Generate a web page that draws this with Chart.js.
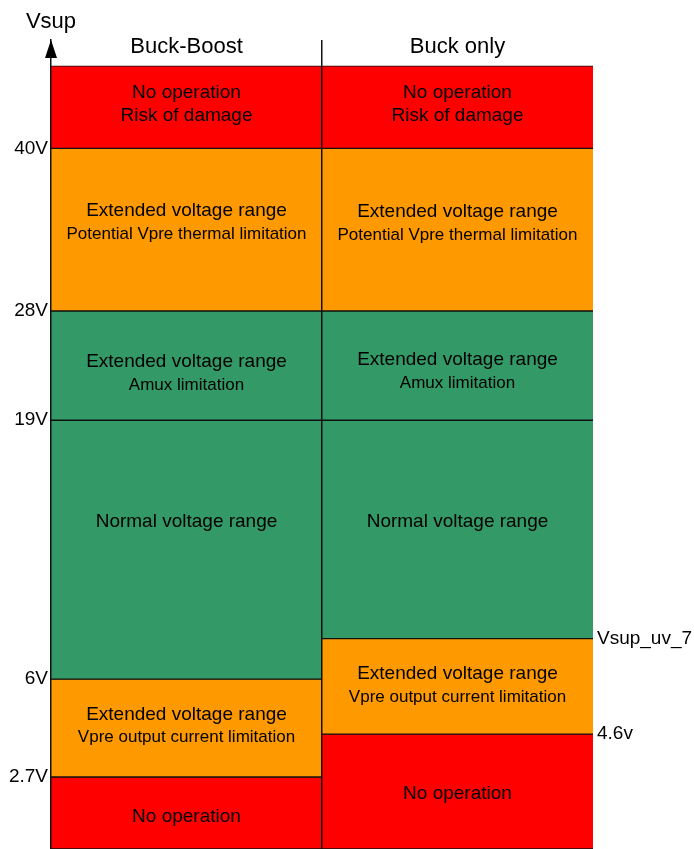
<!DOCTYPE html>
<html>
<head>
<meta charset="utf-8">
<script src="https://cdn.jsdelivr.net/npm/chart.js@4.4.0/dist/chart.umd.min.js"></script>
<style>
  html, body { margin: 0; padding: 0; background: #fff; }
  #wrap { width: 694px; height: 849px; position: relative; }
</style>
</head>
<body>
<div id="wrap"><canvas id="chart-vsup"></canvas></div>
<script>
// Vsup operating ranges — schematic axis, 0 = bottom, 100 = arrow tip

var columns = ['Buck-Boost', 'Buck only'];

// band edges, top to bottom, on the schematic Vsup axis
var buckBoostEdges = [96.8, 86.6, 66.5, 53, 21, 8.9, 0];
var buckOnlyEdges  = [96.8, 86.6, 66.5, 53, 26, 14.2, 0];

var leftTickValues  = [86.6, 66.5, 53, 21, 8.9];
var leftTickLabels  = ['40V', '28V', '19V', '6V', '2.7V'];
var rightTickValues = [26, 14.2];
var rightTickLabels = ['Vsup_uv_7', '4.6v'];

var bandText = [
  ['No operation', 'Risk of damage'],
  ['Extended voltage range', 'Potential Vpre thermal limitation'],
  ['Extended voltage range', 'Amux limitation'],
  ['Normal voltage range'],
  ['Extended voltage range', 'Vpre output current limitation'],
  ['No operation']
];

var red    = '#FF0000';
var orange = '#FF9900';
var green  = '#339966';
var bandColors = [red, orange, green, green, orange, red];

// décalage vertical du texte (px) par bande, [Buck-Boost, Buck only]
var textShift = [[-3, -3], [-7, -6], [8, 6], [-28, -8], [-2, -1], [4, 2]];

var FONT = "'Liberation Sans', Arial, sans-serif";
var ink  = '#111';

var datasets = bandText.map(function(t, i) {
  return {
    label: t.join(' / '),
    data: [
      [buckBoostEdges[i + 1], buckBoostEdges[i]],
      [buckOnlyEdges[i + 1], buckOnlyEdges[i]]
    ],
    backgroundColor: bandColors[i],
    borderColor: ink,
    borderWidth: { top: 1, bottom: 1, left: 0, right: 0 },
    borderSkipped: false,
    grouped: false,
    barPercentage: 1,
    categoryPercentage: 1
  };
});

// texte dans les bandes + flèche + titres
var decor = {
  id: 'decor',
  afterDatasetsDraw: function(chart) {
    var ctx = chart.ctx;
    ctx.save();
    ctx.fillStyle = '#000';
    ctx.textAlign = 'center';
    ctx.textBaseline = 'middle';
    chart.data.datasets.forEach(function(ds, di) {
      var lines = bandText[di];
      chart.getDatasetMeta(di).data.forEach(function(bar, ci) {
        var cy = (bar.y + bar.base) / 2 + textShift[di][ci];
        var y0 = cy - (lines.length - 1) * 11.5;
        lines.forEach(function(txt, li) {
          ctx.font = (li === 0 || lines[0] === 'No operation' ? '19px ' : '17px ') + FONT;
          ctx.fillText(txt, bar.x, y0 + li * 23);
        });
      });
    });
    ctx.restore();
  },
  afterDraw: function(chart) {
    var ctx = chart.ctx, a = chart.chartArea;
    var yTop = chart.scales.y.getPixelForValue(100);
    ctx.save();
    ctx.fillStyle = '#000';
    ctx.beginPath();
    ctx.moveTo(a.left, yTop);
    ctx.lineTo(a.left - 6, yTop + 18);
    ctx.lineTo(a.left + 6, yTop + 18);
    ctx.closePath();
    ctx.fill();
    ctx.textAlign = 'center';
    ctx.textBaseline = 'middle';
    ctx.font = '22px ' + FONT;
    ctx.fillText('Vsup', a.left, 22);
    columns.forEach(function(c, i) {
      ctx.fillText(c, chart.scales.x.getPixelForValue(i), 47);
    });
    ctx.restore();
  }
};

function noPad(s, w) {
  s.width = w;
  s.paddingTop = 0;
  s.paddingBottom = 0;
}

new Chart(document.getElementById('chart-vsup'), {
  type: 'bar',
  data: { labels: columns, datasets: datasets },
  plugins: [decor],
  options: {
    responsive: true, maintainAspectRatio: false, animation: false,
    layout: { padding: { top: 40, bottom: 0, left: 0, right: 0 } },
    plugins: { legend: { display: false }, tooltip: { enabled: false } },
    scales: {
      x: {
        ticks: { display: false },
        border: { display: false },
        grid: {
          z: 1, offset: true, drawTicks: false, lineWidth: 1.5,
          color: function(c) { return c.index === 1 ? ink : 'rgba(0,0,0,0)'; }
        },
        afterFit: function(s) { s.height = 0; s.paddingLeft = 0; s.paddingRight = 0; }
      },
      y: {
        min: 0, max: 100,
        grid: { display: false, drawTicks: false },
        border: { display: true, color: ink, width: 1.5, z: 1 },
        afterBuildTicks: function(s) {
          s.ticks = leftTickValues.map(function(v) { return { value: v }; });
        },
        ticks: {
          autoSkip: false, padding: 3, color: '#000',
          font: { family: FONT, size: 19 },
          callback: function(v, i) { return leftTickLabels[i]; }
        },
        afterFit: function(s) { noPad(s, 51); }
      },
      y2: {
        position: 'right', min: 0, max: 100,
        grid: { display: false, drawTicks: false },
        border: { display: false },
        afterBuildTicks: function(s) {
          s.ticks = rightTickValues.map(function(v) { return { value: v }; });
        },
        ticks: {
          autoSkip: false, padding: 4, color: '#000',
          font: { family: FONT, size: 19 },
          callback: function(v, i) { return rightTickLabels[i]; }
        },
        afterFit: function(s) { noPad(s, 101); }
      }
    }
  }
});
</script>
</body>
</html>
